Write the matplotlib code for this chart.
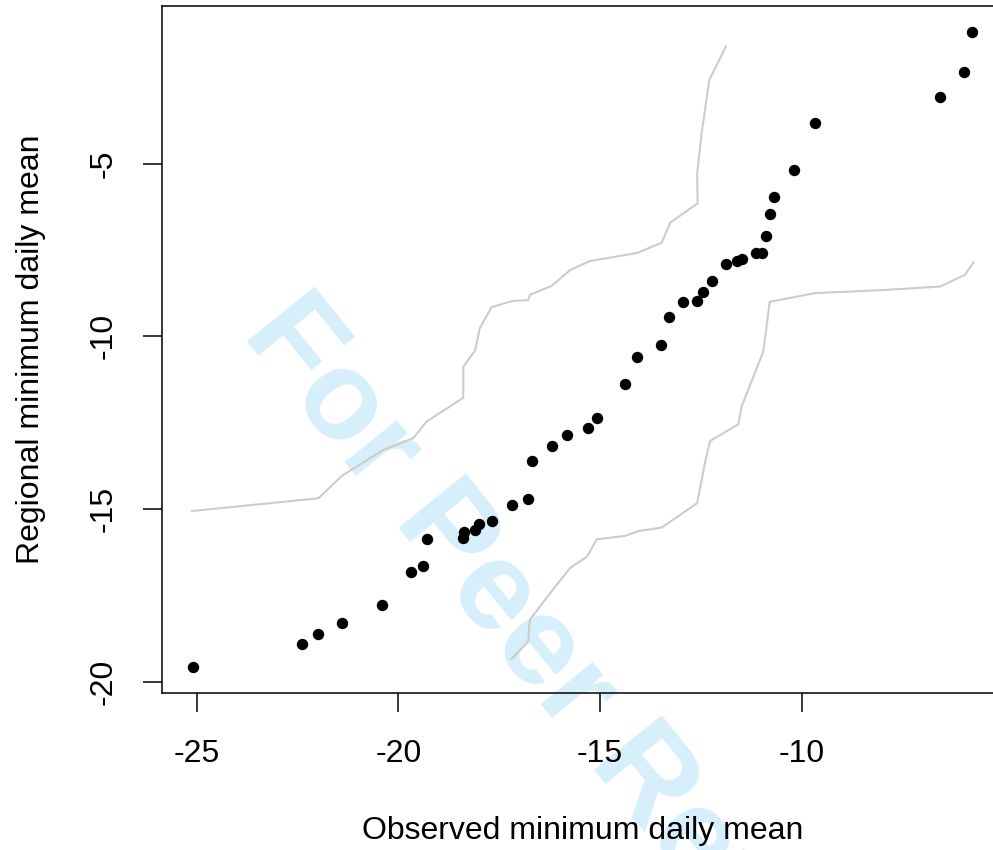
import matplotlib
matplotlib.use("Agg")
import matplotlib.pyplot as plt

# Observed vs regional minimum daily mean (points)
observed = [-25.10, -22.40, -22.00, -21.40, -20.40, -19.69, -19.40, -19.29, -18.40, -18.38,
            -18.10, -17.99, -17.69, -17.19, -16.79, -16.69, -16.18, -15.83, -15.29, -15.08,
            -14.39, -14.08, -13.48, -13.29, -12.95, -12.59, -12.44, -12.23, -11.88, -11.60,
            -11.47, -11.14, -10.98, -10.88, -10.78, -10.68, -10.18, -9.68, -6.58, -5.97, -5.77]
regional = [-19.58, -18.91, -18.61, -18.30, -17.77, -16.82, -16.64, -15.88, -15.83, -15.66,
            -15.61, -15.44, -15.34, -14.88, -14.71, -13.62, -13.18, -12.86, -12.65, -12.38,
            -11.37, -10.59, -10.24, -9.43, -9.00, -8.97, -8.72, -8.40, -7.91, -7.81,
            -7.77, -7.59, -7.59, -7.10, -6.47, -5.96, -5.18, -3.82, -3.07, -2.35, -1.18]

# Envelope lines
upper_x = [-25.12, -21.98, -21.40, -20.37, -19.63, -19.30, -18.39, -18.39, -18.10, -17.98,
           -17.69, -17.19, -16.78, -16.74, -16.20, -15.74, -15.25, -14.09, -13.47, -13.26,
           -12.58, -12.59, -12.48, -12.29, -11.88]
upper_y = [-15.06, -14.69, -14.04, -13.29, -12.95, -12.47, -11.78, -10.88, -10.42, -9.76,
           -9.16, -8.98, -8.95, -8.80, -8.54, -8.08, -7.82, -7.59, -7.29, -6.71,
           -6.15, -5.28, -4.12, -2.58, -1.61]
lower_x = [-17.19, -16.78, -16.74, -16.24, -15.74, -15.32, -15.08, -14.38, -14.05, -13.47,
           -12.59, -12.40, -12.27, -11.57, -11.49, -10.95, -10.79, -9.67, -7.98, -6.57,
           -5.95, -5.74]
lower_y = [-19.34, -18.84, -18.21, -17.44, -16.71, -16.38, -15.88, -15.78, -15.64, -15.54,
           -14.83, -13.68, -13.03, -12.55, -12.04, -10.44, -9.00, -8.75, -8.66, -8.56,
           -8.22, -7.86]

x_ticks = [-25, -20, -15, -10]
y_ticks = [-20, -15, -10, -5]
x_label = "Observed minimum daily mean"
y_label = "Regional minimum daily mean"
watermark = "For Peer Review"

plt.rcParams['font.family'] = ['Liberation Sans', 'DejaVu Sans']

fig = plt.figure(figsize=(9.93, 8.5), dpi=100)
ax = fig.add_axes([0.1628, 0.1851, 0.8475, 0.8076])
ax.patch.set_alpha(0)

fig.text(240.9 / 993, 1 - 334.5 / 850, watermark, rotation=-51, rotation_mode='anchor',
         ha='left', va='baseline', fontsize=91.5, fontweight='bold', color='#d6effb', zorder=-1)

ax.plot(upper_x, upper_y, color='#cccccc', lw=1.5, zorder=2)
ax.plot(lower_x, lower_y, color='#cccccc', lw=1.5, zorder=2)
ax.plot(observed, regional, 'o', color='black', markersize=8.2, markeredgewidth=0, zorder=3)

ax.set_xlim(-25.87, -5.0)
ax.set_ylim(-20.32, -0.44)
ax.set_xticks(x_ticks)
ax.set_yticks(y_ticks)
ax.set_xticklabels([str(v) for v in x_ticks])
ax.set_yticklabels([str(v) for v in y_ticks])

for s in ax.spines.values():
    s.set_linewidth(1.1)
ax.spines['right'].set_visible(False)

ax.tick_params(axis='both', direction='out', length=13.7, width=1.1, labelsize=23)
ax.tick_params(axis='x', pad=36.4)
ax.tick_params(axis='y', pad=22.1)
for lbl in ax.get_xticklabels():
    lbl.set_va('baseline')
for lbl in ax.get_yticklabels():
    lbl.set_rotation(90)
    lbl.set_rotation_mode('anchor')
    lbl.set_ha('center')
    lbl.set_va('baseline')

ax.set_xlabel(x_label, fontsize=23, va='baseline')
ax.xaxis.set_label_coords(0.5, (692.7 - 839) / 686.5)
ax.set_ylabel(y_label, fontsize=23, va='baseline')
ax.yaxis.set_label_coords((39 - 161.7) / 841.6, 0.5)

fig.savefig("out.png", dpi=100)
